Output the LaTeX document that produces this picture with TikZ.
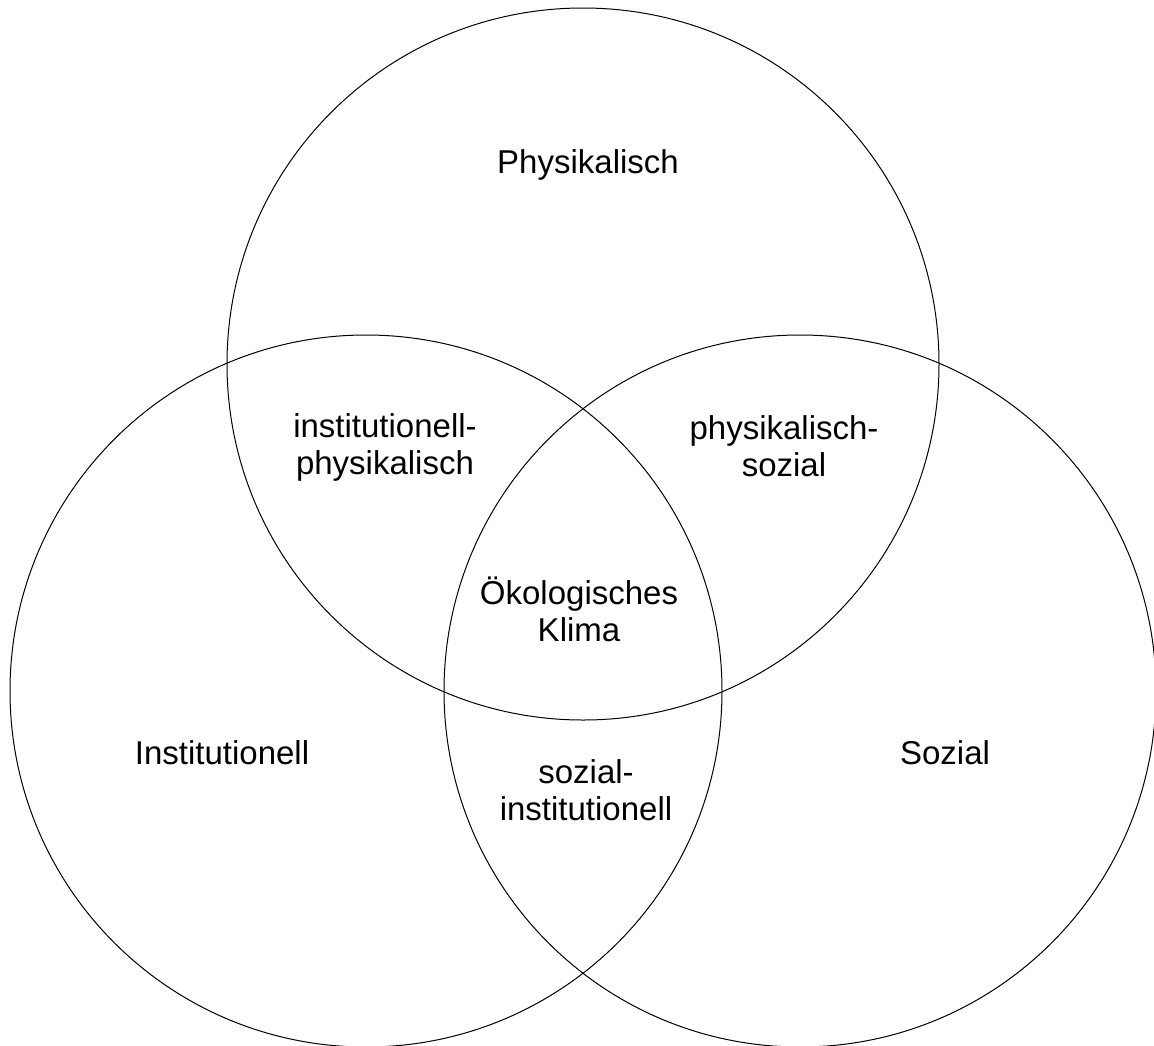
\documentclass[tikz,border=0pt]{standalone}
\usepackage{fontspec}
\setmainfont{Liberation Sans}
\begin{document}
\begin{tikzpicture}[x=1pt,y=-1pt,
  ring/.style={draw=black, line width=1pt},
  label/.style={font=\fontsize{33}{37}\selectfont, align=center, inner sep=0pt, anchor=center}]
  \useasboundingbox[fill=white] (0,0) rectangle (1154,1045);
  % three overlapping spheres
  \draw[ring] (583,364) circle[radius=356pt];
  \draw[ring] (366,691) circle[radius=356pt];
  \draw[ring] (800,691) circle[radius=356pt];
  % region labels
  \node[label] (phys) at (588,165) {Physikalisch};
  \node[label] (instphys) at (385,447) {institutionell-\\physikalisch};
  \node[label] (physsoz) at (784,446) {physikalisch-\\sozial};
  \node[label] (oeko) at (579,609) {Ökologisches\\Klima};
  \node[label] (inst) at (222,753) {Institutionell};
  \node[label] (soz) at (945,753) {Sozial};
  \node[label] (sozinst) at (586,790) {sozial-\\institutionell};
\end{tikzpicture}
\end{document}
